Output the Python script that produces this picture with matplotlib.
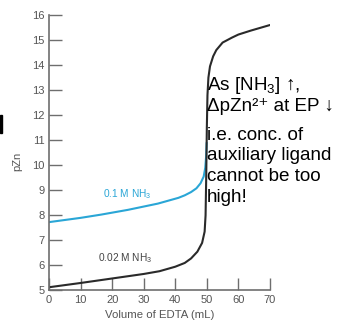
import matplotlib
matplotlib.use("Agg")
import matplotlib.pyplot as plt
from matplotlib.patches import Rectangle

plt.rcParams['font.family'] = ['Liberation Sans', 'DejaVu Sans']
plt.rcParams['mathtext.default'] = 'regular'

# Data
vol_low = [0, 10, 20, 30, 35, 40, 43, 45, 47, 48.5, 49.3, 49.6, 49.8, 50.0, 50.2, 50.5, 51.0, 52.0, 53.0, 55.0, 58.0, 60.0, 64.0, 70.0]
pzn_low = [5.13, 5.3, 5.48, 5.66, 5.77, 5.95, 6.1, 6.28, 6.55, 6.9, 7.35, 8.0, 9.5, 11.5, 12.8, 13.5, 13.95, 14.35, 14.6, 14.9, 15.1, 15.22, 15.38, 15.6]
vol_high = [0, 10, 16.5, 25, 34.5, 41, 43, 45, 46.7, 48, 49.0, 49.5, 49.8, 49.95]
pzn_high = [7.73, 7.9, 8.03, 8.22, 8.47, 8.7, 8.8, 8.93, 9.08, 9.28, 9.55, 9.9, 10.4, 10.9]

xticks = [0, 10, 20, 30, 40, 50, 60, 70]
yticks = list(range(5, 17))

note_lines = ['As [NH$_3$] \u2191,', '\u0394pZn\u00b2\u207a at EP \u2193',
              'i.e. conc. of', 'auxiliary ligand', 'cannot be too', 'high!']
note_baselines_px = [90, 110.5, 140, 160.5, 181, 201.5]

gray = '#6e6e6e'
W, H = 341, 324
fig = plt.figure(figsize=(3.41, 3.24), dpi=100)
ax = fig.add_axes([0.1437, 0.1034, 0.648, 0.8503])
ax.plot(vol_high, pzn_high, color='#2aa6d6', lw=1.5, solid_capstyle='round')
ax.plot(vol_low, pzn_low, color='#2a2a2a', lw=1.5, solid_capstyle='round')

ax.set_xlim(0, 70)
ax.set_ylim(5, 16)
ax.set_xticks(xticks)
ax.set_yticks(yticks)
for s in ['top', 'right']:
    ax.spines[s].set_visible(False)
for s in ['left', 'bottom']:
    ax.spines[s].set_color(gray)
    ax.spines[s].set_linewidth(1.2)
ax.tick_params(direction='in', length=9, width=1.0, color=gray, labelcolor='#555555', labelsize=8, pad=3)
ax.set_xlabel('Volume of EDTA (mL)', fontsize=8.2, color='#555555', labelpad=4)
ax.set_ylabel('pZn', fontsize=8, color='#555555')
ax.yaxis.set_label_coords((22 - 49) / 221, (290 - 161) / 275)
ax.patch.set_alpha(0)

ax.text(17.1, 8.71, '0.1 M NH$_3$', fontsize=7.3, color='#2aa6d6', va='baseline')
ax.text(15.5, 6.16, '0.02 M NH$_3$', fontsize=7.3, color='#444444', va='baseline')

for line, yb in zip(note_lines, note_baselines_px):
    fig.text(207 / W, 1 - yb / H, line, fontsize=13.6, color='black', va='baseline', ha='left')

fig.patches.append(Rectangle((0, 1 - 133 / H), 2 / W, 18 / H, transform=fig.transFigure, color='black'))

fig.savefig('out.png', dpi=100)
